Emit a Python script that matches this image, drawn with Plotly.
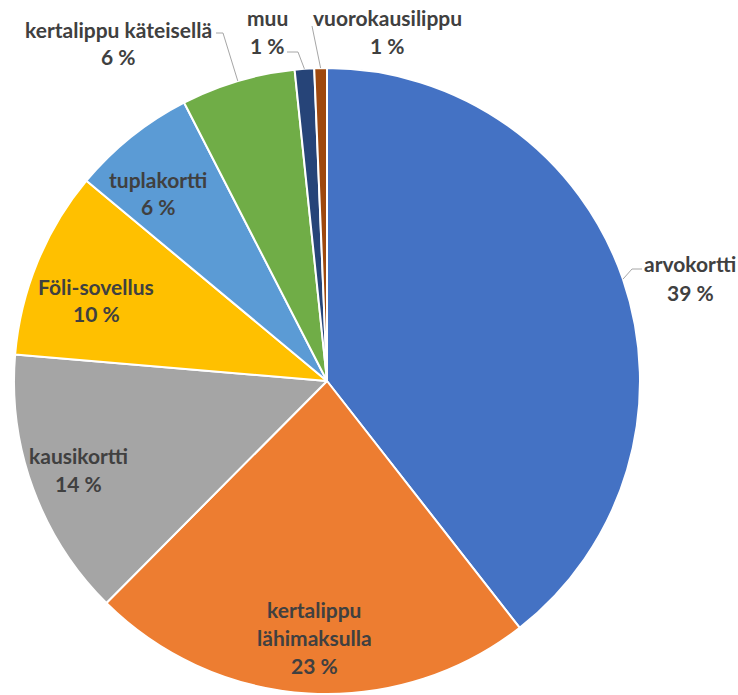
import math
import plotly.graph_objects as go

# ---- data ----
categories = ["arvokortti", "kertalippu lähimaksulla", "kausikortti", "Föli-sovellus",
              "tuplakortti", "kertalippu käteisellä", "muu", "vuorokausilippu"]
shares = [39.45, 23.0, 13.9, 9.7, 6.4, 5.9, 1.0, 0.65]
colors = ["#4472C4", "#ED7D31", "#A5A5A5", "#FFC000",
          "#5B9BD5", "#70AD47", "#264478", "#9E480E"]
label_lines = {"kertalippu lähimaksulla": ["kertalippu", "lähimaksulla"]}

# ---- geometry (pixels) ----
W, H = 738, 695
CX, CY, R = 327, 381, 313

# label block centres (pixels) and leader-line bends
label_pos = {
    "arvokortti": (690, 278),
    "kertalippu lähimaksulla": (314, 637),
    "kausikortti": (78, 469),
    "Föli-sovellus": (96, 300),
    "tuplakortti": (158, 193),
    "kertalippu käteisellä": (118, 43),
    "muu": (267, 31),
    "vuorokausilippu": (387, 31),
}
leaders = {
    "arvokortti": [(632, 269), (642, 269)],
    "kertalippu käteisellä": [(223, 33), (216, 33)],
    "muu": [(298, 52), (287, 52)],
    "vuorokausilippu": [(312, 26)],
}
LINE_GAP = 28


def px(x):
    return x / W


def py(y):
    return 1 - y / H


fig = go.Figure(go.Pie(
    labels=categories, values=shares, sort=False, direction="clockwise", rotation=0,
    marker=dict(colors=colors, line=dict(color="white", width=2)),
    textinfo="none", hoverinfo="label+percent", showlegend=False,
    domain=dict(x=[px(CX - R), px(CX + R)], y=[py(CY + R), py(CY - R)]),
))

total = sum(shares)
annotations = []
shapes = []
cum = 0.0
for name, v in zip(categories, shares):
    mid = (cum + v / 2) / total * 2 * math.pi
    cum += v
    lines = label_lines.get(name, [name]) + [f"{int(v / total * 100 + 0.5)} %"]
    bx, by = label_pos[name]
    n = len(lines)
    for i, t in enumerate(lines):
        ly = by + (i - (n - 1) / 2) * LINE_GAP
        annotations.append(dict(
            x=px(bx), y=py(ly), xref="paper", yref="paper", text=t, showarrow=False,
            xanchor="center", yanchor="middle",
            font=dict(family="Lato", size=21, color="#404040", weight="bold"),
        ))
    if name in leaders:
        ex = CX + R * math.sin(mid)
        ey = CY - R * math.cos(mid)
        pts = [(ex, ey)] + leaders[name]
        path = "M " + " L ".join(f"{px(x)},{py(y)}" for x, y in pts)
        shapes.append(dict(type="path", path=path, xref="paper", yref="paper",
                           line=dict(color="#A6A6A6", width=1), layer="above"))

fig.update_layout(
    width=W, height=H, margin=dict(l=0, r=0, t=0, b=0),
    paper_bgcolor="white", plot_bgcolor="white",
    annotations=annotations, shapes=shapes,
)
fig.write_html("out.html", config={"displayModeBar": False},
               post_script="document.body.style.margin='0';document.body.style.overflow='hidden';")
